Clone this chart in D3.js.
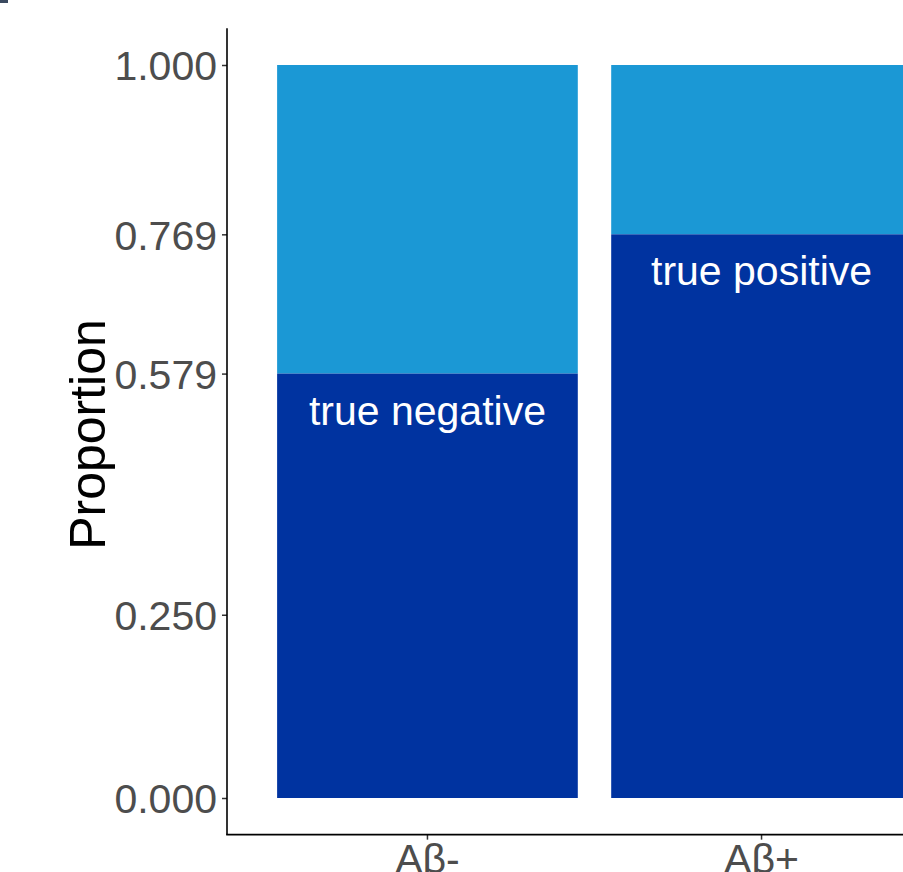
<!DOCTYPE html>
<html>
<head>
<meta charset="utf-8">
<script src="https://cdn.jsdelivr.net/npm/d3@7"></script>
<style>
  html, body { margin: 0; padding: 0; background: #fff; overflow: hidden; }
  svg { display: block; font-family: "Liberation Sans", Arial, sans-serif; }
</style>
</head>
<body>
<script>
// Groups on the x axis and the share of correctly classified cases in each
const groups = ["Aβ-", "Aβ+"];
const trueShare = [0.579, 0.769];
const trueLabels = ["true negative", "true positive"];
const yTicks = [0, 0.25, 0.579, 0.769, 1];

const W = 903, H = 872;
const svg = d3.select("body").append("svg").attr("width", W).attr("height", H);

// small edge of a neighbouring panel at the top-left corner
svg.append("rect").attr("x", 0).attr("y", 0).attr("width", 8).attr("height", 3).attr("fill", "#3b4a60");

const y = d3.scaleLinear().domain([0, 1]).range([798, 65]);
const x = d3.scaleBand().domain(groups).range([227, 962]).paddingInner(0.1).paddingOuter(0.15);

const panelTop = y(1.05), panelBottom = y(-0.05);

const rows = groups.map((g, i) => ({ g, v: trueShare[i], label: trueLabels[i] }));

// remaining share (light) stacked above the correctly classified share (dark)
svg.selectAll("rect.rest").data(rows).join("rect")
  .attr("class", "rest")
  .attr("x", d => x(d.g)).attr("width", x.bandwidth())
  .attr("y", y(1)).attr("height", d => y(d.v) - y(1))
  .attr("fill", "#1b98d5");

svg.selectAll("rect.true").data(rows).join("rect")
  .attr("class", "true")
  .attr("x", d => x(d.g)).attr("width", x.bandwidth())
  .attr("y", d => y(d.v)).attr("height", d => y(0) - y(d.v))
  .attr("fill", "#0033a0");

svg.selectAll("text.lab").data(rows).join("text")
  .attr("class", "lab")
  .attr("x", d => x(d.g) + x.bandwidth() / 2)
  .attr("y", d => y(d.v) + 51)
  .attr("text-anchor", "middle")
  .attr("font-size", 41)
  .attr("fill", "#ffffff")
  .text(d => d.label);

// y axis
const yAxis = svg.append("g").attr("transform", "translate(227,0)")
  .call(d3.axisLeft(y).tickValues(yTicks).tickFormat(d3.format(".3f")).tickSize(5).tickPadding(5));
yAxis.select(".domain").remove();
yAxis.selectAll(".tick line").attr("stroke", "#333").attr("stroke-width", 1.5);
yAxis.selectAll(".tick text").attr("font-size", 41).attr("fill", "#4d4d4d")
  .attr("font-family", "Liberation Sans, Arial, sans-serif").attr("dy", "0.36em");
svg.append("line").attr("x1", 227).attr("x2", 227).attr("y1", panelTop).attr("y2", panelBottom)
  .attr("stroke", "#000").attr("stroke-width", 1.6);

// x axis
const xAxis = svg.append("g").attr("transform", `translate(0,${panelBottom})`)
  .call(d3.axisBottom(x).tickSize(5).tickPadding(0));
xAxis.select(".domain").remove();
xAxis.selectAll(".tick line").attr("stroke", "#333").attr("stroke-width", 1.5);
xAxis.selectAll(".tick text").attr("font-size", 41).attr("fill", "#4d4d4d")
  .attr("font-family", "Liberation Sans, Arial, sans-serif")
  .attr("dy", null).attr("y", 873 - panelBottom);
svg.append("line").attr("x1", 226.2).attr("x2", 962).attr("y1", panelBottom).attr("y2", panelBottom)
  .attr("stroke", "#000").attr("stroke-width", 1.6);

// y axis title
svg.append("text")
  .attr("transform", `translate(105,${(panelTop + panelBottom) / 2 + 3}) rotate(-90)`)
  .attr("text-anchor", "middle")
  .attr("font-size", 50)
  .attr("fill", "#000")
  .text("Proportion");
</script>
</body>
</html>
